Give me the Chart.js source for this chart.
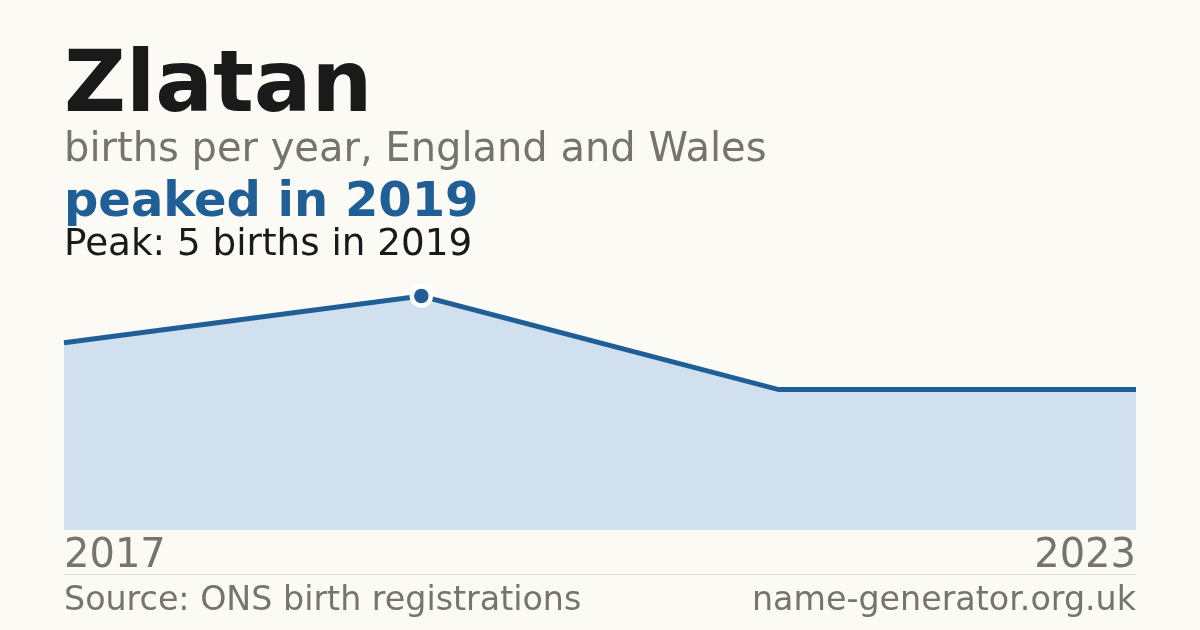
<!DOCTYPE html>
<html>
<head>
<meta charset="utf-8">
<script src="https://cdn.jsdelivr.net/npm/chart.js@4/dist/chart.umd.min.js"></script>
<style>
  html, body { margin: 0; padding: 0; }
  body { width: 1200px; height: 630px; background: #fbfaf5; position: relative; overflow: hidden;
         font-family: "DejaVu Sans", sans-serif; }
  .txt { position: absolute; left: 64px; line-height: 1; white-space: nowrap; }
  #title { top: 39px; font-size: 85.5px; font-weight: bold; color: #1a1a1a; }
  #sub { top: 127px; font-size: 40px; color: #77736d; }
  #head { top: 175px; font-size: 48px; font-weight: bold; color: #1f5f96; }
  #peak { top: 224px; font-size: 37.3px; color: #1a1a1a; }
  #source { top: 582px; font-size: 33.3px; color: #77736d; }
  #site { top: 582px; left: auto; right: 64px; font-size: 33.3px; color: #77736d; }
  #rule { position: absolute; left: 64px; width: 1072px; top: 574px; height: 1px; background: #dddad3; }
  #wrap { position: absolute; left: 0; top: 0; width: 1200px; height: 630px; }
</style>
</head>
<body>
<div id="wrap"><canvas id="chart"></canvas></div>
<div class="txt" id="title">Zlatan</div>
<div class="txt" id="sub">births per year, England and Wales</div>
<div class="txt" id="head">peaked in 2019</div>
<div class="txt" id="peak">Peak: 5 births in 2019</div>
<div id="rule"></div>
<div class="txt" id="source">Source: ONS birth registrations</div>
<div class="txt" id="site">name-generator.org.uk</div>
<script>
var years = [2017, 2019, 2021, 2023];
var births = [4, 5, 3, 3];
var tickYears = [2017, 2023];

var peak = Math.max.apply(null, births);
var points = years.map(function(y, i) { return { x: y, y: births[i] }; });

var ctx = document.getElementById('chart').getContext('2d');
new Chart(ctx, {
  type: 'line',
  data: {
    datasets: [{
      data: points,
      borderColor: '#1f5f96',
      borderWidth: 5,
      backgroundColor: '#d0e0ef',
      fill: 'origin',
      tension: 0,
      clip: false,
      pointRadius: function(c) { return c.raw && c.raw.y === peak ? 9.5 : 0; },
      pointHoverRadius: 0,
      pointBackgroundColor: '#1f5f96',
      pointBorderColor: '#ffffff',
      pointBorderWidth: 4.5
    }]
  },
  options: {
    responsive: true,
    maintainAspectRatio: false,
    animation: false,
    layout: { padding: { left: 64, right: 64, top: 296, bottom: 46 } },
    plugins: { legend: { display: false }, tooltip: { enabled: false } },
    scales: {
      x: {
        type: 'linear',
        min: years[0],
        max: years[years.length - 1],
        grid: { display: false, drawTicks: false },
        border: { display: false },
        afterBuildTicks: function(axis) {
          axis.ticks = tickYears.map(function(v) { return { value: v }; });
        },
        ticks: {
          align: 'inner',
          padding: 3,
          color: '#77736d',
          font: { family: 'DejaVu Sans', size: 40 },
          callback: function(v) { return String(v); }
        }
      },
      y: {
        display: false,
        min: 0,
        max: peak
      }
    }
  }
});
</script>
</body>
</html>
